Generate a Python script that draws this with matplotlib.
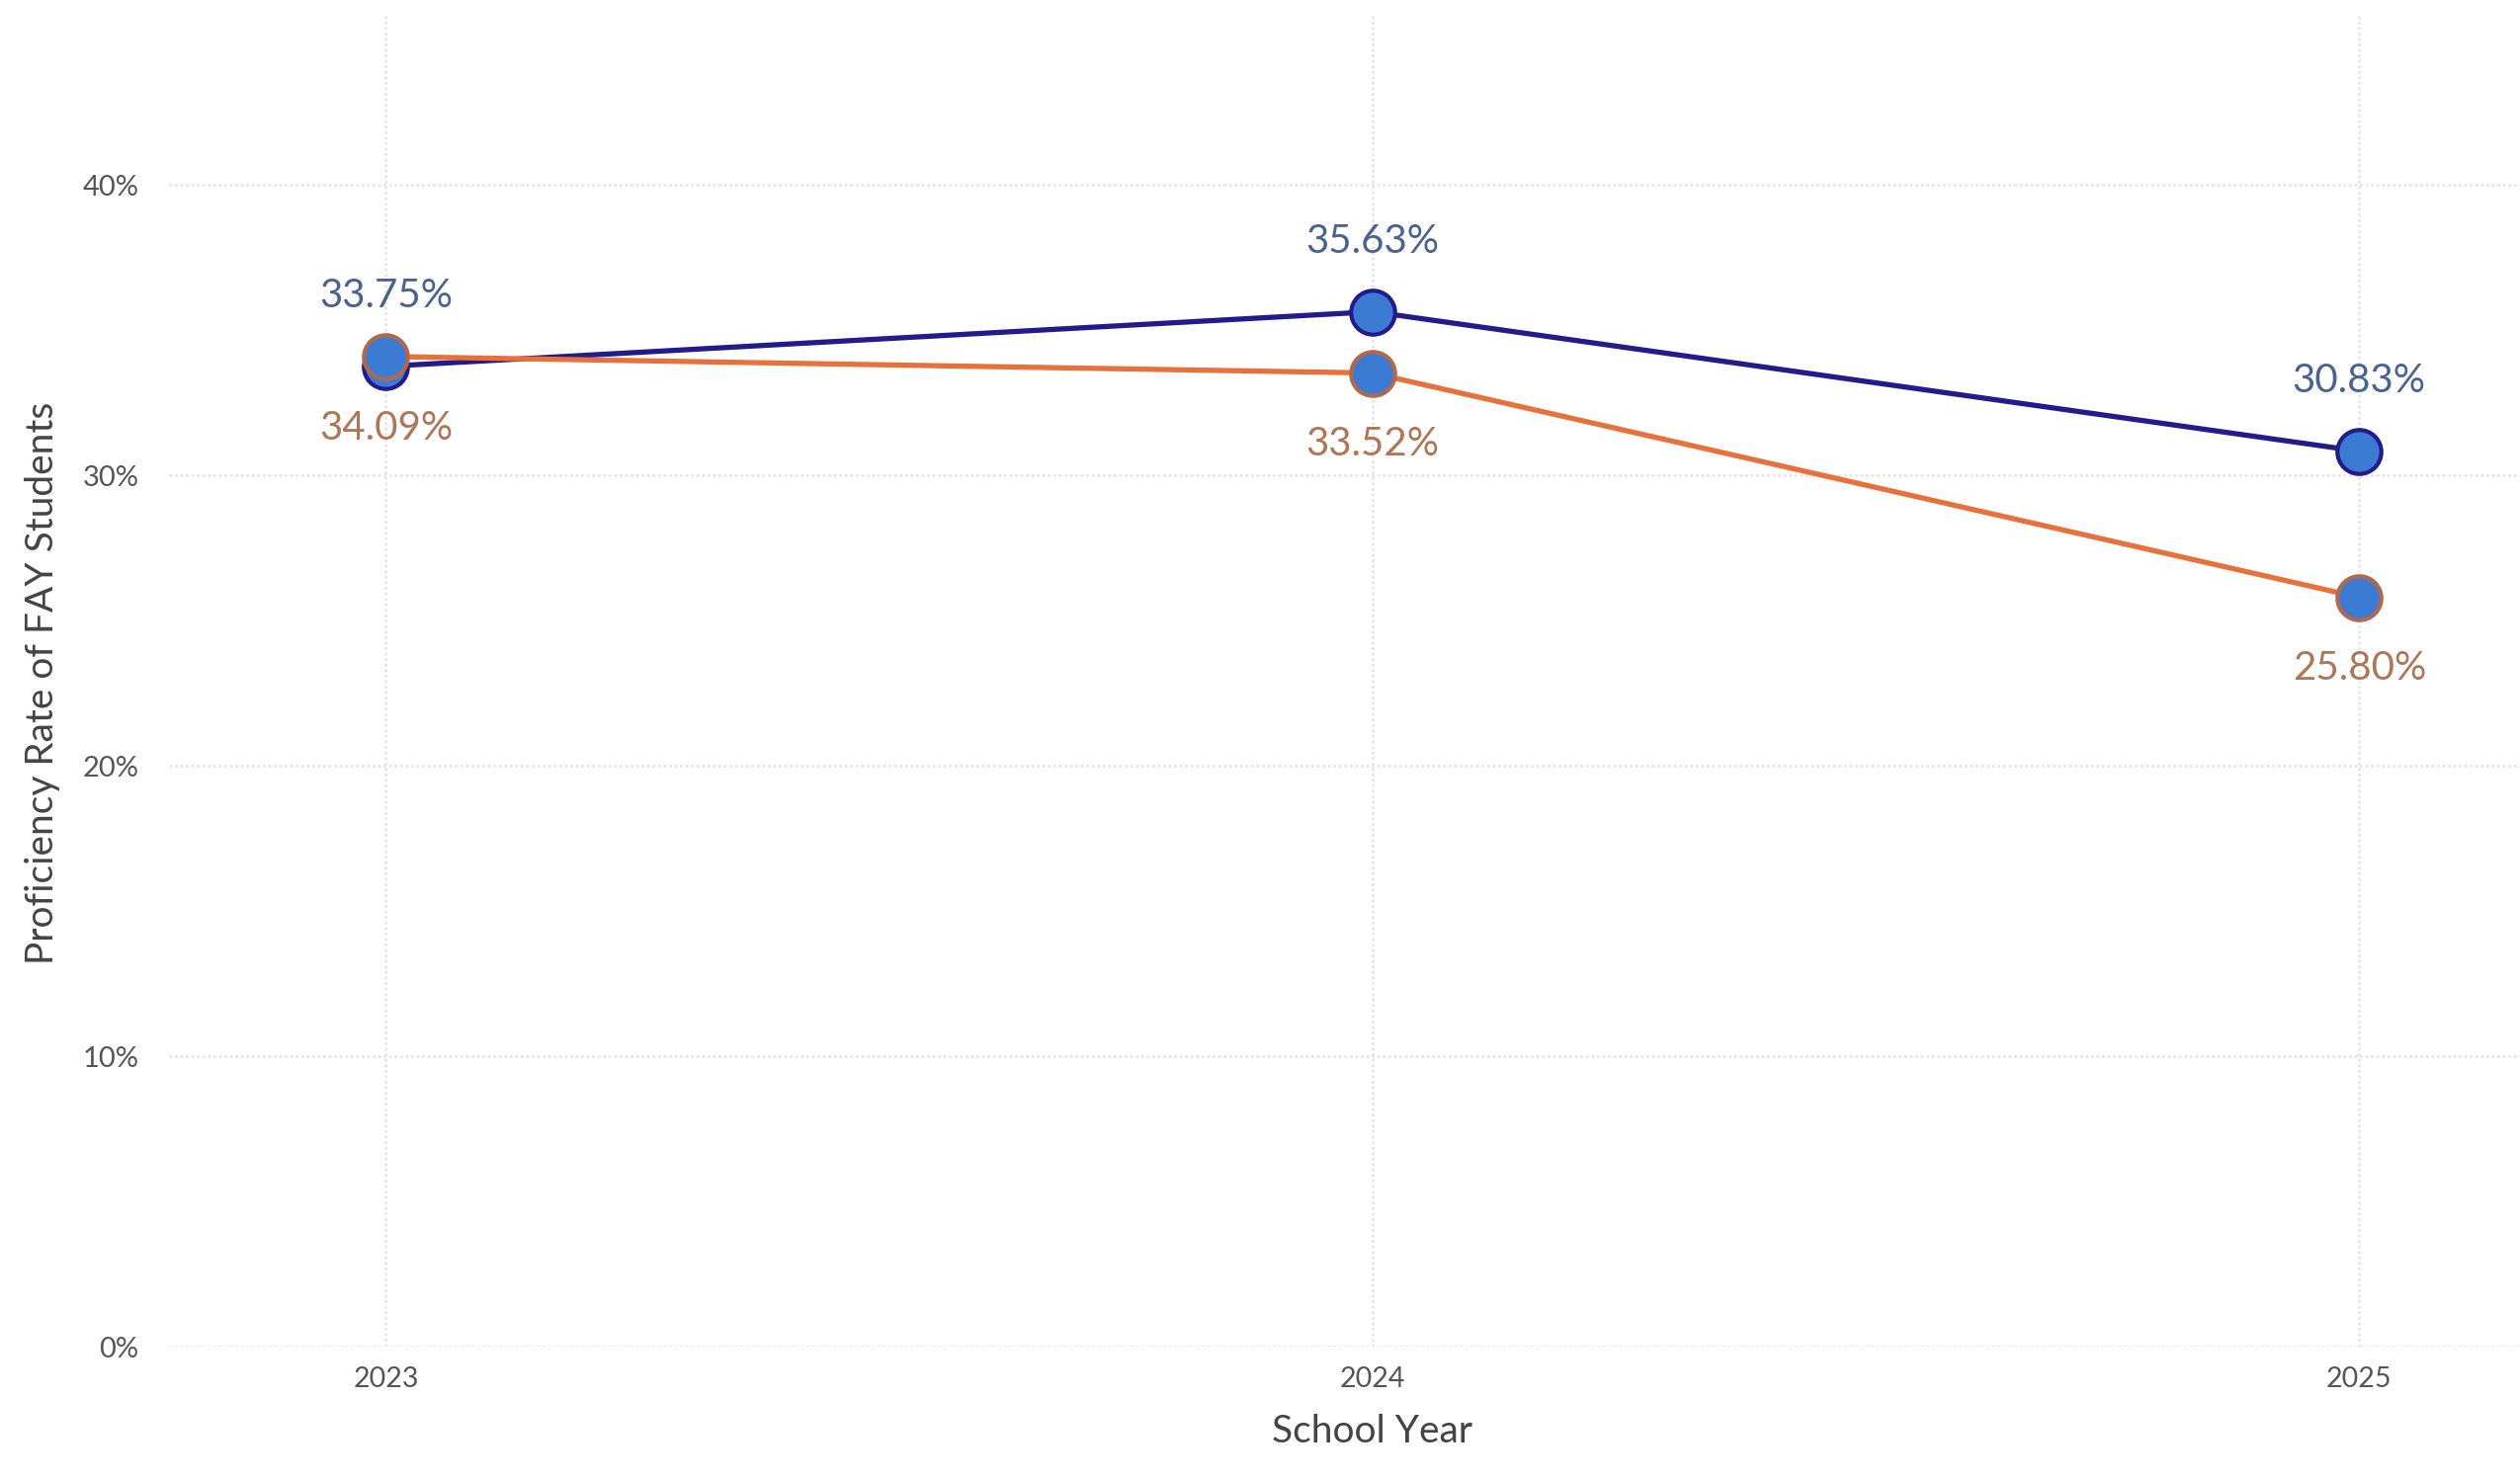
import matplotlib.pyplot as plt
from matplotlib.ticker import PercentFormatter

years = [2023, 2024, 2025]
blue_vals = [33.75, 35.63, 30.83]
orange_vals = [34.09, 33.52, 25.80]
y_ticks = [0, 10, 20, 30, 40]

plt.rcParams['font.family'] = ['Lato', 'DejaVu Sans']

fig = plt.figure(figsize=(25.5, 14.98), dpi=100)
ax = fig.add_axes([0.067, 0.090, 0.933, 0.899])

navy = '#231B8C'
orange = '#E8703A'
fill = '#3B7BD4'

ax.plot(years, blue_vals, color=navy, lw=3.8, marker='o', ms=32,
        mfc=fill, mec=navy, mew=3, zorder=3)
ax.plot(years, orange_vals, color=orange, lw=3.8, marker='o', ms=32,
        mfc=fill, mec='#B0694C', mew=3, zorder=4)

for x, v in zip(years, blue_vals):
    ax.annotate(f'{v:.2f}%', (x, v), xytext=(0, 51), textcoords='offset points',
                ha='center', va='center', fontsize=29, color='#4A628F')
for x, v in zip(years, orange_vals):
    ax.annotate(f'{v:.2f}%', (x, v), xytext=(0, -52), textcoords='offset points',
                ha='center', va='center', fontsize=29, color='#B07556')

xmin, xmax = 2023 - 0.22, 2025 + 0.163
ax.set_xlim(xmin, xmax)
ax.set_ylim(0, 45.8)
ax.set_xticks(years)
ax.set_xticklabels([str(y) for y in years])
ax.set_yticks(y_ticks)
ax.yaxis.set_major_formatter(PercentFormatter(decimals=0))

ax.grid(True, color='#E6E6E6', lw=2, ls=(0, (1, 1)))
ax.set_axisbelow(True)
for s in ax.spines.values():
    s.set_visible(False)
ax.tick_params(length=0, labelcolor='#555555')
ax.tick_params(axis='x', pad=14, labelsize=20.5)
ax.tick_params(axis='y', pad=22, labelsize=21)

ax.set_xlabel('School Year', fontsize=28, color='#444444')
ax.xaxis.set_label_coords((2024 - xmin) / (xmax - xmin), -0.050)
ax.set_ylabel('Proficiency Rate of FAY Students', fontsize=28, color='#444444')
ax.yaxis.set_label_coords(-0.046, 0.499)

fig.savefig('out.png', dpi=100, facecolor='white')
